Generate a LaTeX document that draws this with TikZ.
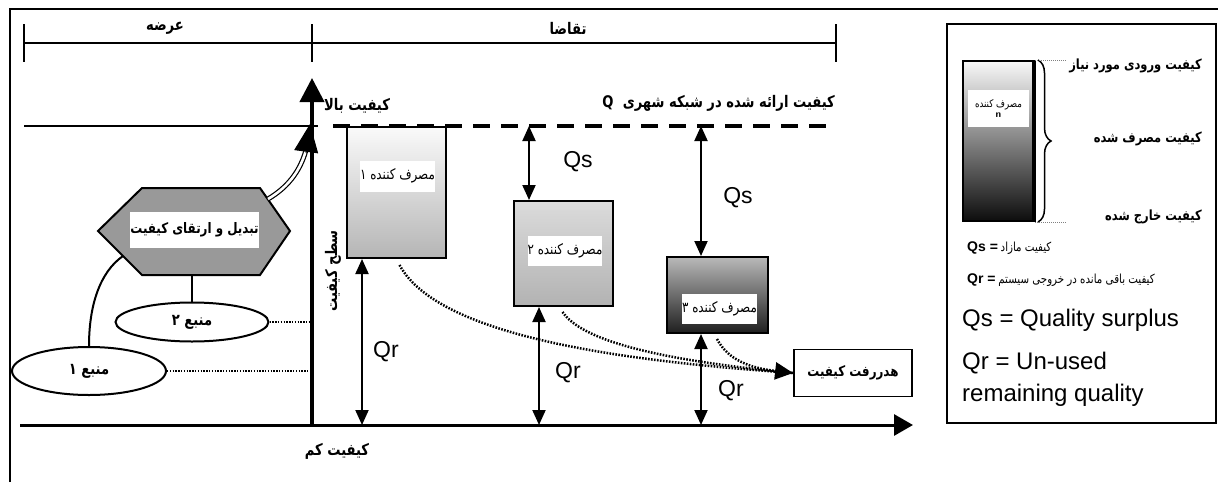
\documentclass[tikz,border=0pt]{standalone}
\usepackage{fontspec}
\setmainfont{Liberation Sans}
\newfontfamily\fa[Script=Arabic,FakeStretch=0.82]{DejaVu Sans}
\TeXXeTstate=1
\usetikzlibrary{arrows.meta,shapes.geometric,decorations.pathreplacing,calc}
\newcommand\fsz[1]{\fontsize{#1}{#1}\selectfont}

\tikzset{
  axisline/.style={line width=4pt},
  hline/.style={line width=3pt},
  bigtip/.style={-{Triangle[length=24pt,width=24pt]}},
  dimarrow/.style={line width=2pt,{Triangle[length=15pt,width=13pt]}-{Triangle[length=15pt,width=13pt]}},
  consumer/.style={draw,line width=2pt,inner sep=0pt},
  tag/.style={fill=white,inner sep=0pt,font=\fa\fsz{14.5}},
  fab/.style={font=\fa\bfseries\fsz{16},inner sep=1pt},
  legfa/.style={font=\fa\bfseries\fsz{14},inner sep=1pt,anchor=east},
  qlab/.style={font=\fsz{23},inner sep=0pt},
  dotline/.style={line width=2.5pt,dash pattern=on 1.6pt off 1.4pt},
  thindot/.style={line width=1.6pt,dash pattern=on 1.4pt off 1.4pt},
  source/.style={ellipse,draw,line width=2pt,inner sep=0pt,font=\fa\bfseries\fsz{16}},
  legtext/.style={font=\fsz{24},inner sep=0pt,anchor=west},
}

\begin{document}
\begin{tikzpicture}[x=1pt,y=-1pt]
\useasboundingbox (0,0) rectangle (1218,482);

% outer frame
\draw[line width=1.5pt] (10,482) -- (10,9) -- (1218,9);

% supply / demand bracket
\draw[line width=1.5pt] (24,43) -- (836,43);
\foreach \t in {24,312,836} \draw[line width=1.5pt] (\t,24) -- (\t,62);
\node[fab] (supply) at (165,28) {\beginR عرضه\endR};
\node[fab] (demand) at (568,28) {\beginR تقاضا\endR};

% quality axes
\coordinate (origin) at (312,425);
\coordinate (axtop) at (312,78);
\coordinate (axleft) at (20,425);
\coordinate (axright) at (913,425);
\draw[axisline,bigtip] (origin) -- (axtop);
\draw[hline,-{Triangle[length=19pt,width=21pt]}] (axleft) -- (axright);
\node[fab] (high) at (357,106) {\beginR کیفیت بالا\endR};
\node[fab] (low) at (337,451) {\beginR کیفیت کم\endR};
\node[fab,rotate=90] (level) at (333,271) {\beginR سطح کیفیت\endR};

% supplied quality level Q
\coordinate (qa) at (24,126);
\coordinate (qb) at (318,126);
\coordinate (qR) at (836,126);
\draw[line width=2.5pt] (qa) -- (qb);
\draw[line width=4pt,dash pattern=on 17pt off 11pt] ($(qb)+(15,0)$) -- (qR);
\node[fab,anchor=east] (qtext) at (836,103) {\beginR کیفیت ارائه شده در شبکه شهری\ \ \beginL Q\endL\endR};

% consumers
\node[consumer,minimum width=99pt,minimum height=131pt,top color=gray!4,bottom color=gray!58] (c1) at (396.5,192.5) {};
\node[consumer,minimum width=99pt,minimum height=105pt,top color=gray!28,bottom color=gray!60] (c2) at (563.5,253.5) {};
\node[consumer,minimum width=101pt,minimum height=76pt,top color=gray!55,bottom color=black!88] (c3) at (717,295) {};
\node[tag,minimum width=69pt,minimum height=31pt] (c1t) at (397.5,176) {\beginR مصرف کننده ۱\endR};
\node[tag,minimum width=72pt,minimum height=30pt] (c2t) at (565,251) {\beginR مصرف کننده ۲\endR};
\node[tag,minimum width=75pt,minimum height=30pt] (c3t) at (719.5,309) {\beginR مصرف کننده ۳\endR};

% surplus and remaining quality
\coordinate (s2) at (529,126);
\coordinate (s3) at (701,126);
\coordinate (r1) at (362,425);
\coordinate (r2) at (539,425);
\coordinate (r3) at (701,425);
\draw[dimarrow] (s2) -- (s2 |- c2.north);
\draw[dimarrow] (s3) -- (s3 |- c3.north);
\draw[dimarrow] (r1 |- c1.south) -- (r1);
\draw[dimarrow] (r2 |- c2.south) -- (r2);
\draw[dimarrow] (r3 |- c3.south) -- (r3);
\node[qlab] (qs2) at (578,162) {Qs};
\node[qlab] (qs3) at (738,198) {Qs};
\node[qlab] (qr1) at (386,352) {Qr};
\node[qlab] (qr2) at (568,373) {Qr};
\node[qlab] (qr3) at (731,391) {Qr};

% quality loss
\node[draw,line width=1.8pt,minimum width=118pt,minimum height=47pt,font=\fa\bfseries\fsz{14.5}] (loss) at (853,373) {\beginR هدررفت کیفیت\endR};
\draw[dotline] ($(c1.south)+(3,6)$) .. controls (440,340) and (640,362) .. (loss.west);
\draw[dotline] ($(c2.south)+(-1,5)$) .. controls (585,345) and (680,362) .. (loss.west);
\draw[dotline,-{Triangle[length=18pt,width=17pt]}] ($(c3.south)+(0,5)$) .. controls (728,360) and (750,368) .. (loss.west);

% quality upgrading unit
\coordinate (hW) at (98,231);
\coordinate (hNW) at (142,188);
\coordinate (hNE) at (260,188);
\coordinate (hE) at (290,231);
\coordinate (hSE) at (260,275);
\coordinate (hSW) at (142,275);
\draw[line width=2pt,fill=gray!80] (hW) -- (hNW) -- (hNE) -- (hE) -- (hSE) -- (hSW) -- cycle;
\node[fill=white,minimum width=125pt,minimum height=36pt,inner sep=0pt,font=\fa\bfseries\fsz{14.5}] (upg) at (194.5,230) {\beginR تبدیل و ارتقای کیفیت\endR};

% sources
\node[source,minimum width=153pt,minimum height=39pt] (src2) at (192,322) {\beginR منبع ۲\endR};
\node[source,minimum width=154pt,minimum height=48pt] (src1) at (89,371) {\beginR منبع ۱\endR};
\coordinate (hB) at (192,275);
\coordinate (hL) at (123,256);
\draw[line width=2pt] (hB) -- (src2.north);
\draw[line width=2pt] (src1.north) .. controls (89,305) and (100,272) .. (hL);
\draw[thindot] (src2.east) -- (src2.east -| origin);
\draw[thindot] (src1.east) -- (src1.east -| origin);

% upgraded quality rising to the top level
\coordinate (hUp) at (268,199);
\coordinate (hiTip) at (310,124);
\draw[line width=1.2pt,double,double distance=2.6pt] (hUp) .. controls (290,186) and (302,168) .. ($(hiTip)+(-3,22)$);
\draw[line width=1pt,-{Triangle[length=28pt,width=24pt]}] ($(hiTip)+(-4,29)$) -- (hiTip);

% legend
\node[draw,line width=2pt,minimum width=269pt,minimum height=399pt,inner sep=0pt] (legend) at (1081.5,223.5) {};
\node[consumer,minimum width=71pt,minimum height=160pt,top color=gray!5,middle color=gray!22,bottom color=black!95] (lbox) at (998.5,141) {};
\draw[line width=3.5pt] ($(lbox.north east)+(-1,0)$) -- ($(lbox.south east)+(-1,0)$);
\node[fill=white,minimum width=61pt,minimum height=37pt,inner sep=0pt,align=center,font=\fa\fsz{10.5}] (ltag) at (998.5,108.5) {\beginR مصرف کننده\endR\\[0pt]{\sffamily\bfseries\fsz{10}n}};
\draw[line width=1.5pt,decorate,decoration={brace,amplitude=13pt}] ($(lbox.north east)+(3,0)$) -- ($(lbox.south east)+(3,0)$);
\draw[gray,line width=1pt,dash pattern=on 1pt off 1pt] (lbox.north east) -- ++(32,0);
\draw[gray,line width=1pt,dash pattern=on 1pt off 1pt] (lbox.south east) -- ++(32,0);
\node[legfa] (lin) at (1203,66) {\beginR کیفیت ورودی مورد نیاز\endR};
\node[legfa] (luse) at (1203,139) {\beginR کیفیت مصرف شده\endR};
\node[legfa] (lout) at (1203,217) {\beginR کیفیت خارج شده\endR};
\node[anchor=west,inner sep=0pt] (lqs) at (967,248) {{\bfseries\fsz{14}Qs =} {\fa\fsz{12.5}\beginR کیفیت مازاد\endR}};
\node[anchor=west,inner sep=0pt] (lqr) at (967,280) {{\bfseries\fsz{14}Qr =} {\fa\fsz{12.5}\beginR کیفیت باقی مانده در خروجی سیستم\endR}};
\node[legtext] (eqs) at (962,320) {Qs = Quality surplus};
\node[legtext] (eqr) at (962,363) {Qr = Un-used};
\node[legtext] (erq) at (962,395) {remaining quality};
\end{tikzpicture}
\end{document}
